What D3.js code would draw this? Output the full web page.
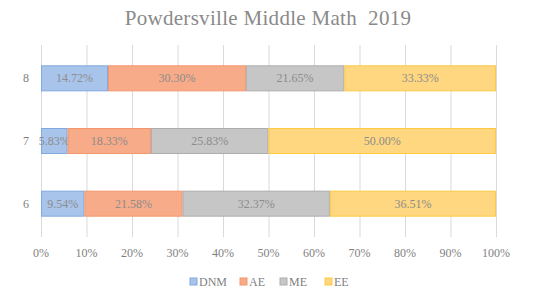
<!DOCTYPE html>
<html>
<head>
<meta charset="utf-8">
<script src="https://cdn.jsdelivr.net/npm/d3@7"></script>
<style>
  body { margin: 0; background: #fff; }
  text { font-family: "Liberation Serif", "DejaVu Serif", serif; fill: #7f7f7f; }
</style>
</head>
<body>
<div id="chart"></div>
<script>
"use strict"
// Grades, bottom row first as in the picture
var grades = ["6", "7", "8"]
var levels = ["DNM", "AE", "ME", "EE"]
var dnm = [9.54, 5.83, 14.72]
var ae = [21.58, 18.33, 30.30]
var me = [32.37, 25.83, 21.65]
var ee = [36.51, 50.00, 33.33]
var xTicks = [0, 10, 20, 30, 40, 50, 60, 70, 80, 90, 100]

var fills = ["#a9c4eb", "#f8ab88", "#c6c6c6", "#ffd780"]
var strokes = ["#80a9df", "#f3966c", "#adadad", "#fcc940"]

var width = 534, height = 289
var margin = { top: 47, right: 38, bottom: 54, left: 41 }
var drawWidth = width - margin.left - margin.right
var drawHeight = height - margin.top - margin.bottom

var table = grades.map(function (g, i) {
    return { grade: g, DNM: dnm[i], AE: ae[i], ME: me[i], EE: ee[i] }
})
var series = d3.stack().keys(levels)(table)

var xScale = d3.scaleLinear().domain([0, 100]).range([0, drawWidth])
var yScale = d3.scaleBand().domain(grades.slice().reverse()).range([0, drawHeight])
    .paddingInner(0.585)
    .paddingOuter(0.2925)

var svg = d3.select("#chart").append("svg")
    .attr("width", width)
    .attr("height", height)

svg.append("text")
    .attr("x", 268)
    .attr("y", 25)
    .attr("text-anchor", "middle")
    .style("font-size", "21px")
    .style("letter-spacing", "0.3px")
    .style("white-space", "pre")
    .style("fill", "#8a8a8a")
    .text("Powdersville Middle Math  2019")

var g = svg.append("g")
    .attr("transform", "translate(" + margin.left + "," + margin.top + ")")

// vertical gridlines
g.selectAll(".grid").data(xTicks).enter().append("line")
    .attr("class", "grid")
    .attr("x1", function (d) { return xScale(d) + 0.5 })
    .attr("x2", function (d) { return xScale(d) + 0.5 })
    .attr("y1", -2)
    .attr("y2", drawHeight + 2)
    .attr("stroke", "#d9d9d9")
    .attr("stroke-width", 1)

// x tick labels
g.selectAll(".xlab").data(xTicks).enter().append("text")
    .attr("class", "xlab")
    .attr("x", function (d) { return xScale(d) })
    .attr("y", drawHeight + 22)
    .attr("text-anchor", "middle")
    .style("font-size", "12px")
    .text(function (d) { return d + "%" })

// y labels
g.selectAll(".ylab").data(grades).enter().append("text")
    .attr("class", "ylab")
    .attr("x", -15)
    .attr("y", function (d) { return yScale(d) + yScale.bandwidth() / 2 + 4 })
    .attr("text-anchor", "middle")
    .style("font-size", "12px")
    .text(function (d) { return d })

var layers = g.selectAll(".layer").data(series).enter().append("g")
    .attr("class", "layer")

layers.selectAll("rect").data(function (d) { return d }).enter().append("rect")
    .attr("x", function (d) { return xScale(d[0]) + 0.5 })
    .attr("y", function (d) { return yScale(d.data.grade) + 0.5 })
    .attr("width", function (d) { return xScale(d[1]) - xScale(d[0]) - 1 })
    .attr("height", yScale.bandwidth() - 1)
    .attr("fill", function () { return fills[levels.indexOf(d3.select(this.parentNode).datum().key)] })
    .attr("stroke", function () { return strokes[levels.indexOf(d3.select(this.parentNode).datum().key)] })
    .attr("stroke-width", 1)

layers.selectAll(".val").data(function (d) { return d }).enter().append("text")
    .attr("class", "val")
    .attr("x", function (d) { return xScale((d[0] + d[1]) / 2) })
    .attr("y", function (d) { return yScale(d.data.grade) + yScale.bandwidth() / 2 + 4 })
    .attr("text-anchor", "middle")
    .style("font-size", "12px")
    .style("fill", "#8c8c8c")
    .text(function (d) { return (d[1] - d[0]).toFixed(2) + "%" })

// legend
var legendX = [190, 240, 280, 325]
var legend = svg.selectAll(".legend").data(levels).enter().append("g")
    .attr("class", "legend")
    .attr("transform", function (d, i) { return "translate(" + legendX[i] + ",278)" })

legend.append("rect")
    .attr("width", 7)
    .attr("height", 7)
    .attr("fill", function (d, i) { return fills[i] })
    .attr("stroke", function (d, i) { return strokes[i] })

legend.append("text")
    .attr("x", 9)
    .attr("y", 7.5)
    .style("font-size", "12px")
    .text(function (d) { return d })
</script>
</body>
</html>
